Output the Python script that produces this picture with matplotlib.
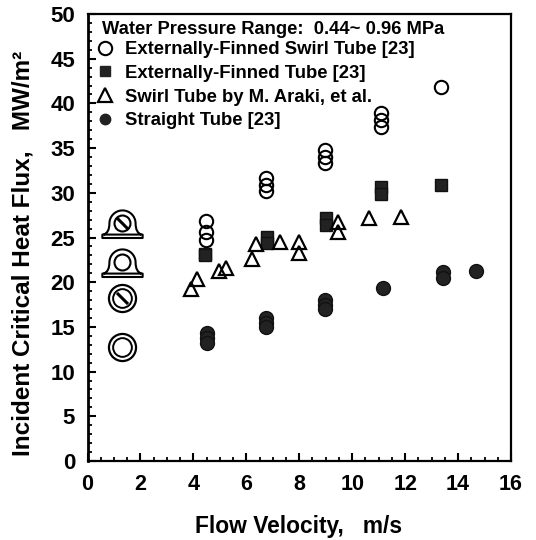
import numpy as np
import matplotlib
matplotlib.use("Agg")
import matplotlib.pyplot as plt
from matplotlib.path import Path
from matplotlib.lines import Line2D
from matplotlib.ticker import MultipleLocator

plt.rcParams['font.family'] = ['Liberation Sans', 'DejaVu Sans']
plt.rcParams['font.weight'] = 'bold'

swirl_x = [4.46,4.46,4.46,6.74,6.74,6.74,8.96,8.96,8.96,11.1,11.1,11.1,13.34]
swirl_y = [26.8,25.6,24.7,31.7,30.9,30.2,34.8,34.0,33.3,38.9,38.1,37.4,41.8]
fin_x = [4.43,4.43,6.77,6.77,9.0,9.0,11.1,11.1,13.34]
fin_y = [23.2,23.0,25.1,24.4,27.2,26.4,30.6,29.9,30.9]
araki_x = [3.91,4.13,4.96,5.23,6.36,6.21,7.26,7.98,7.98,9.45,9.45,10.62,11.83]
araki_y = [19.2,20.4,21.25,21.6,24.3,22.6,24.5,24.5,23.3,26.7,25.6,27.2,27.3]
straight_x = [4.51,4.51,4.51,6.74,6.74,6.74,8.96,8.96,8.96,11.15,13.42,13.42,14.66]
straight_y = [14.3,13.8,13.2,16.0,15.4,15.0,18.0,17.4,17.0,19.35,21.1,20.5,21.25]
icon_x = [1.3,1.3,1.3,1.3]
icon_y = [26.6,22.3,18.2,12.75]
icon_pedestal = [True,True,False,False]
icon_slash = [True,False,True,False]

labels = ["Externally-Finned Swirl Tube [23]", "Externally-Finned Tube [23]",
          "Swirl Tube by M. Araki, et al.", "Straight Tube [23]"]
title = "Water Pressure Range:  0.44~ 0.96 MPa"

fig = plt.figure(figsize=(5.36,5.40), dpi=100)
ax = fig.add_axes([87.5/536, 1-461/540, (511-87.5)/536, (461-14)/540])
ax.set_xlim(0,16); ax.set_ylim(0,50)

ax.plot(swirl_x, swirl_y, 'o', ms=9.6, mfc='none', mew=1.5, mec='black', ls='none')
ax.plot(fin_x, fin_y, 's', ms=8.8, color='#222222', mec='#111111', ls='none')
ax.plot(araki_x, araki_y, '^', ms=9.5, mfc='none', mew=1.6, mec='black', ls='none')
ax.plot(straight_x, straight_y, 'o', ms=10, color='#222222', mec='#111111', ls='none')

# tube cross-section icons
t = np.radians(np.linspace(180, 0, 25))
hump = np.column_stack([0.65*np.cos(t), 0.65*np.sin(t)])
verts = [(-1,-.72),(1,-.72),(1,-.55),(-1,-.55),(-1,-.72),
         (-.93,-.55),(-.65,-.45)] + [tuple(v) for v in hump] + [(.65,-.45),(.93,-.55)]
codes = [1,2,2,2,79, 1,3] + [3] + [2]*(len(hump)-1) + [3,3]
ped = Path(verts, codes)
slash = Path([(-1,1),(1,-1)])
for x, y, p, s in zip(icon_x, icon_y, icon_pedestal, icon_slash):
    if p:
        ax.plot([x],[y], marker=ped, ms=29, mfc='none', mec='black', mew=1.5, ls='none')
        ax.plot([x],[y], 'o', ms=11.5, mfc='white', mec='black', mew=1.5, ls='none')
    else:
        ax.plot([x],[y], 'o', ms=19.5, mfc='white', mec='black', mew=1.6, ls='none')
        ax.plot([x],[y], 'o', ms=13.5, mfc='none', mec='black', mew=1.4, ls='none')
    if s:
        ax.plot([x],[y], marker=slash, ms=8, mec='black', mew=2.2, ls='none')

handles = [Line2D([],[],marker='o',ms=9.6,mfc='none',mew=1.5,mec='black',ls='none'),
           Line2D([],[],marker='s',ms=7.5,color='#222222',ls='none'),
           Line2D([],[],marker='^',ms=9.5,mfc='none',mew=1.6,mec='black',ls='none'),
           Line2D([],[],marker='o',ms=7.5,color='#222222',ls='none')]
leg = ax.legend(handles, labels, title=title, loc='upper left', frameon=False,
                bbox_to_anchor=(0.03,0.988), borderaxespad=0, borderpad=0.1, handletextpad=0.92,
                handlelength=0.32, labelspacing=0.37, prop={'size':13.3,'weight':'bold'},
                title_fontproperties={'size':13.2,'weight':'bold'}, alignment='left')
leg._legend_box.sep = 2

ax.xaxis.set_major_locator(MultipleLocator(2)); ax.xaxis.set_minor_locator(MultipleLocator(0.5))
ax.yaxis.set_major_locator(MultipleLocator(5)); ax.yaxis.set_minor_locator(MultipleLocator(1))
ax.tick_params(which='major', direction='in', length=6, width=1.5, pad=9)
ax.tick_params(which='minor', direction='in', length=3, width=1.3)
ax.tick_params(axis='x', which='major', labelsize=15.5, pad=9)
ax.tick_params(axis='y', which='major', labelsize=16, pad=9)
for s in ax.spines.values(): s.set_linewidth(1.6)
ax.spines['left'].set_linewidth(2)
ax.set_xlabel("Flow Velocity,   m/s", fontsize=16.4, fontweight='bold')
ax.set_ylabel("Incident Critical Heat Flux,   MW/m²", fontsize=17.5, fontweight='bold')
ax.xaxis.set_label_coords(0.498, -0.121)
ax.yaxis.set_label_coords(-0.126, 0.465)
fig.savefig("out.png", dpi=100)
